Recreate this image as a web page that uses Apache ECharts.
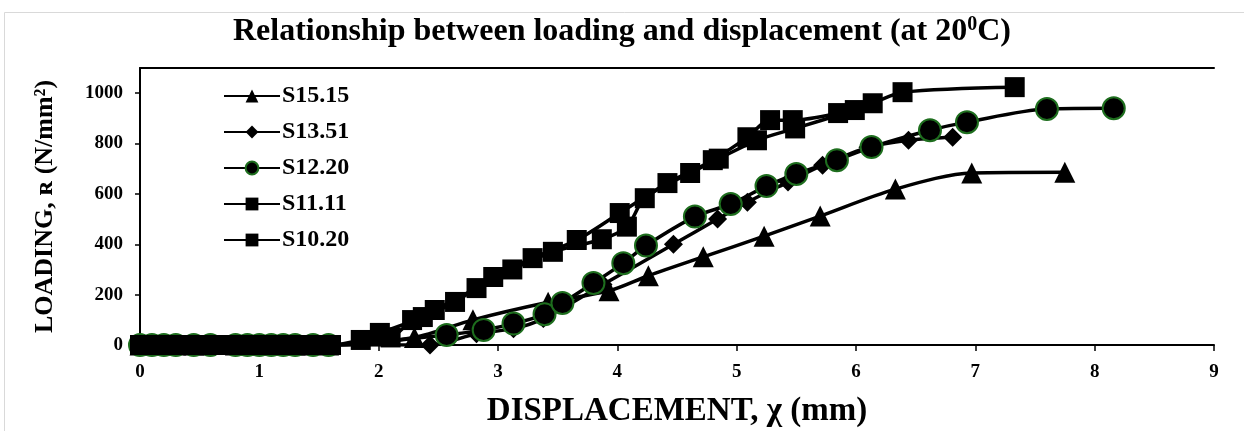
<!DOCTYPE html>
<html><head><meta charset="utf-8">
<script src="https://cdn.jsdelivr.net/npm/echarts@6/dist/echarts.min.js"></script>
<style>html,body{margin:0;padding:0;background:#fff}#c{width:1244px;height:431px}</style>
</head><body><div id="c"></div>
<script>
const seriesNames = ['S15.15','S13.51','S12.20','S11.11','S10.20'];
const xTicks = [0,1,2,3,4,5,6,7,8,9];
const yTicks = [0,200,400,600,800,1000];
const s1515 = [[0,0],[0.1,0],[0.2,0],[0.3,0],[0.45,0],[0.55,0],[0.8,0],[0.9,0],[1.0,0],[1.1,0],[1.2,0],[1.3,0],[1.4,0],[1.58,0],[2.3,30],[2.79,100],[3.42,170],[3.93,215],[4.26,275],[4.72,350],[5.23,432],[5.70,512],[6.33,619],[6.97,683],[7.75,686]];
const s1351 = [[0,0],[0.1,0],[0.2,0],[0.3,0],[0.45,0],[0.55,0],[0.8,0],[0.9,0],[1.0,0],[1.1,0],[1.2,0],[1.3,0],[1.4,0],[1.58,0],[2.43,0],[2.82,45],[3.13,65],[3.38,105],[3.88,240],[4.47,400],[4.84,500],[5.09,567],[5.43,647],[5.72,714],[6.10,785],[6.44,813],[6.81,825]];
const s1220 = [[0,0],[0.1,0],[0.2,0],[0.3,0],[0.45,0],[0.59,0],[0.8,0],[0.9,0],[1.0,0],[1.1,0],[1.2,0],[1.3,0],[1.45,0],[1.58,0],[2.57,40],[2.88,60],[3.13,85],[3.39,122],[3.54,167],[3.80,246],[4.05,325],[4.24,395],[4.65,510],[4.95,560],[5.25,631],[5.50,679],[5.84,734],[6.13,786],[6.62,853],[6.93,885],[7.60,937],[8.16,940]];
const s1111 = [[0,0],[0.1,0],[0.2,0],[0.3,0],[0.4,0],[0.5,0],[0.6,0],[0.75,0],[0.9,0],[1.0,0],[1.1,0],[1.2,0],[1.3,0],[1.45,0],[1.6,0],[1.85,20],[2.01,48],[2.37,111],[2.64,171],[2.96,270],[3.29,345],[3.66,417],[4.02,524],[4.42,643],[4.80,734],[5.09,825],[5.28,893],[5.47,893],[5.85,921],[6.14,960],[6.39,1004],[7.33,1024]];
const s1020 = [[0,0],[0.1,0],[0.2,0],[0.3,0],[0.4,0],[0.5,0],[0.6,0],[0.8,0],[0.9,0],[1.0,0],[1.1,0],[1.2,0],[1.35,0],[1.5,0],[1.6,0],[2.1,30],[2.28,99],[2.47,139],[2.82,226],[3.12,300],[3.46,370],[3.87,420],[4.08,470],[4.23,583],[4.61,683],[4.85,740],[5.17,813],[5.49,860],[5.99,933]];

const chart = echarts.init(document.getElementById('c'), null, {renderer:'canvas'});
const serif = '"Liberation Serif","Times New Roman",serif';
function mk(name, data, symbol, size, extra) {
  return Object.assign({
    name, type:'line', data, symbol, symbolSize:size, smooth:0.3,
    lineStyle:{color:'#000', width:3.5},
    itemStyle:{color:'#000', borderColor:'#000', borderWidth:0},
    emphasis:{disabled:true}, animation:false, z:2
  }, extra||{});
}
const option = {
  animation:false,
  backgroundColor:'#fff',
  title:{
    text:'{a|Relationship between loading and displacement (at 20}{s|0}{a|C)}',
    left:'center', top:10,
    textStyle:{rich:{
      a:{fontFamily:serif, fontWeight:'bold', fontSize:32, color:'#000'},
      s:{fontFamily:serif, fontWeight:'bold', fontSize:20, color:'#000', verticalAlign:'top', padding:[0,0,13,0]}
    }}
  },
  graphic:[{type:'rect', shape:{x:4.5,y:12.5,width:1245,height:425}, style:{fill:'none', stroke:'#d9d9d9', lineWidth:1}, silent:true, z:-1}],
  legend:{
    orient:'vertical', left:218, top:79, itemGap:12, itemWidth:56, itemHeight:16,
    textStyle:{fontFamily:serif, fontWeight:'bold', fontSize:24, color:'#000', padding:[0,0,0,-3]},
    data:seriesNames
  },
  grid:{left:140, right:30, top:68, bottom:86, containLabel:false, outerBoundsMode:'none'},
  xAxis:[{
    type:'value', min:0, max:9, interval:1,
    name:'DISPLACEMENT, χ (mm)', nameLocation:'middle', nameGap:50,
    nameTextStyle:{fontFamily:serif, fontWeight:'bold', fontSize:33, color:'#000'},
    axisLine:{show:true, onZero:false, lineStyle:{color:'#000', width:2}},
    axisTick:{show:true, inside:false, length:6, lineStyle:{color:'#000', width:1.5}},
    axisLabel:{fontFamily:serif, fontWeight:'bold', fontSize:19, color:'#000', margin:18,
      formatter:v=>xTicks.includes(v)?String(v):''},
    splitLine:{show:false}
  },{
    type:'value', position:'top', min:0, max:9,
    axisLine:{show:true, onZero:false, lineStyle:{color:'#000', width:2}},
    axisTick:{show:false}, axisLabel:{show:false}, splitLine:{show:false}
  }],
  yAxis:{
    type:'value', min:0, max:1100, interval:200,
    name:'LOADING, ʀ (N/mm²)', nameLocation:'middle', nameGap:82, nameRotate:90,
    nameTextStyle:{fontFamily:serif, fontWeight:'bold', fontSize:26, color:'#000'},
    axisLine:{show:true, lineStyle:{color:'#000', width:2}},
    axisTick:{show:true, inside:false, length:5, lineStyle:{color:'#000', width:1.5}},
    axisLabel:{fontFamily:serif, fontWeight:'bold', fontSize:19, color:'#000', margin:17, showMaxLabel:false,
      formatter:v=>yTicks.includes(v)?String(v):''},
    splitLine:{show:false}
  },
  series:[
    mk('S15.15', s1515, 'triangle', 21),
    mk('S13.51', s1351, 'diamond', 19),
    mk('S12.20', s1220, 'circle', 22, {itemStyle:{color:'#000', borderColor:'#1e6e1e', borderWidth:2}}),
    mk('S11.11', s1111, 'rect', 20),
    mk('S10.20', s1020, 'rect', 20)
  ]
};
chart.setOption(option);
</script></body></html>
